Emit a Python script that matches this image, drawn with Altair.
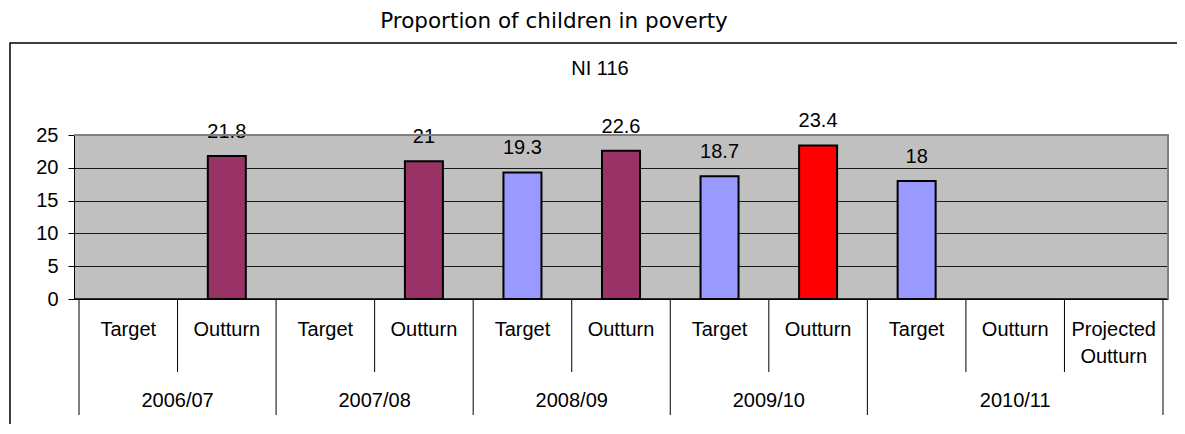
import altair as alt
import pandas as pd

# ---- data ----
years = ["2006/07", "2007/08", "2008/09", "2009/10", "2010/11"]
year_sizes = [2, 2, 2, 2, 3]          # number of categories under each year
cat_labels = ["Target", "Outturn", "Target", "Outturn", "Target", "Outturn",
              "Target", "Outturn", "Target", "Outturn", "Projected\nOutturn"]
values = [None, 21.8, None, 21, 19.3, 22.6, 18.7, 23.4, 18, None, None]
kinds = ["Target", "Outturn", "Target", "Outturn", "Target", "Outturn",
         "Target", "Latest outturn", "Target", "Outturn", "Projected"]
y_ticks = [0, 5, 10, 15, 20, 25]

kind_domain = ["Target", "Outturn", "Latest outturn", "Projected"]
kind_colors = ["#9999FF", "#993366", "#FF0000", "#993366"]

W, H = 1094, 164
FONT = "Liberation Sans"
FS = 20

n = len(cat_labels)
cats = pd.DataFrame({
    "pos": [i + 0.5 for i in range(n)],
    "label": cat_labels,
    "value": values,
    "kind": kinds,
})
bars = cats.dropna(subset=["value"])

# year groups
starts = []
s = 0
for k in year_sizes:
    starts.append(s)
    s += k
yr = pd.DataFrame({
    "year": years,
    "center": [a + b / 2 for a, b in zip(starts, year_sizes)],
})
year_edges = pd.DataFrame({"edge": starts + [n]})
inner_edges = pd.DataFrame({"edge": [e for e in range(1, n) if e not in starts]})

xs = alt.Scale(domain=[0, n], nice=False, zero=False)
ys = alt.Scale(domain=[0, 25], nice=False)


def X(f):
    return alt.X(f, type="quantitative", scale=xs, axis=None)


y_axis = alt.Axis(values=y_ticks, tickSize=6, tickColor="black",
                  domainColor="black", domainWidth=1, labelOverlap=False,
                  labelFontSize=FS, labelFont=FONT, labelColor="black",
                  labelPadding=10, grid=True, gridColor="#1a1a1a",
                  gridWidth=1, title=None)

base_bar = alt.Chart(bars).mark_bar(size=38, stroke="black", strokeWidth=2).encode(
    x=X("pos"),
    y=alt.Y("value:Q", scale=ys, axis=y_axis),
    color=alt.Color("kind:N", scale=alt.Scale(domain=kind_domain, range=kind_colors),
                    legend=None),
)

value_text = alt.Chart(bars).mark_text(
    baseline="alphabetic", dy=-18, fontSize=FS, font=FONT, color="black"
).encode(x=X("pos"), y=alt.Y("value:Q", scale=ys, axis=y_axis),
         text=alt.Text("value:Q", format="~g"))

cat_text = alt.Chart(cats).mark_text(
    baseline="alphabetic", fontSize=FS, font=FONT, color="black",
    lineBreak="\n", lineHeight=27
).encode(x=X("pos"), y=alt.value(H + 37), text="label:N")

inner_div = alt.Chart(inner_edges).mark_rule(color="black", strokeWidth=1).encode(
    x=X("edge"), y=alt.value(H), y2=alt.value(H + 73))

year_div = alt.Chart(year_edges).mark_rule(color="black", strokeWidth=1).encode(
    x=X("edge"), y=alt.value(H), y2=alt.value(H + 116))

year_text = alt.Chart(yr).mark_text(
    baseline="alphabetic", fontSize=FS, font=FONT, color="black"
).encode(x=X("center"), y=alt.value(H + 108), text="year:N")

one = pd.DataFrame({"a": [0]})
bottom_line = alt.Chart(one).mark_rule(color="black", strokeWidth=1.5).encode(
    x=alt.value(0), x2=alt.value(W), y=alt.value(H))
top_border = alt.Chart(one).mark_rule(color="#808080", strokeWidth=2).encode(
    x=alt.value(0), x2=alt.value(W + 1), y=alt.value(0))
right_border = alt.Chart(one).mark_rule(color="#808080", strokeWidth=2).encode(
    x=alt.value(W), y=alt.value(0), y2=alt.value(H))

title = alt.Chart(one).mark_text(
    fontSize=21.5, font="DejaVu Sans", color="black", baseline="alphabetic", align="center"
).encode(x=alt.value(480), y=alt.value(-107), text=alt.value("Proportion of children in poverty"))

subtitle = alt.Chart(one).mark_text(
    fontSize=FS, font=FONT, color="black", baseline="alphabetic", align="center"
).encode(x=alt.value(526), y=alt.value(-60), text=alt.value("NI 116"))

outer = alt.Chart(one).mark_rect(fillOpacity=0, stroke="black", strokeWidth=1.5).encode(
    x=alt.value(-64), x2=alt.value(W + 40), y=alt.value(-92), y2=alt.value(H + 160))

chart = alt.layer(
    outer, base_bar, value_text, cat_text, inner_div, year_div, year_text,
    bottom_line, top_border, right_border, title, subtitle
).properties(
    width=W, height=H,
    autosize=alt.AutoSizeParams(type="none"),
    padding={"left": 66, "top": 127, "right": 9, "bottom": 125},
    background="white",
).configure_view(fill="#C0C0C0", stroke="transparent")

chart.save("out.html", embed_options={"renderer": "svg", "actions": False})
